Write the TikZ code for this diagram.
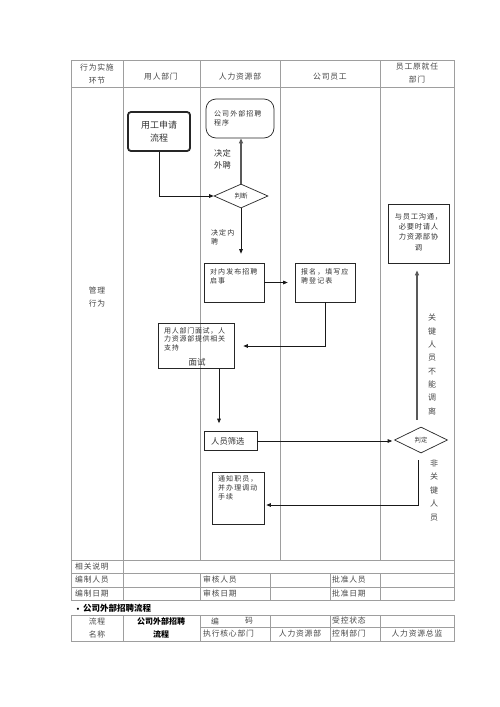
\documentclass[tikz,border=0pt]{standalone}
\usepackage{fontspec}
\setmainfont{Noto Sans CJK SC}
\newfontfamily\spc[LetterSpace=15]{Noto Sans CJK SC}
\newfontfamily\spt[LetterSpace=10]{Noto Sans CJK SC}
\newfontfamily\symfont{DejaVu Sans}
\usetikzlibrary{shapes.geometric,arrows.meta}
\begin{document}
\begin{tikzpicture}[x=1pt,y=-1pt,
 gridl/.style={draw=black!38, line width=0.8pt},
 tt/.style={inner sep=0, text=black!72, font=\spt\fontsize{7.8}{13}\selectfont},
 ft/.style={inner sep=0, text=black!80},
 box/.style={draw=black!85, line width=0.7pt, inner sep=0},
 arr/.style={draw=black!90, line width=0.7pt, -{Triangle[length=4.5pt,width=3.6pt]}},
 garr/.style={draw=black!65, line width=1.3pt, -{Triangle[length=5pt,width=4pt]}},
 small/.style={font=\spc\fontsize{7}{9}\selectfont},
]
\useasboundingbox[fill=white] (0,0) rectangle (500,707);

% ---- main table grid
\draw[gridl] (71,60) rectangle (454,600);
\draw[gridl] (71,87) -- (454,87);
\draw[gridl] (71,560) -- (454,560) (71,573) -- (454,573) (71,587) -- (454,587);
\draw[gridl] (123,60) -- (123,600);
\draw[gridl] (200,60) -- (200,560) (280,60) -- (280,560) (380,60) -- (380,560);
\draw[gridl] (200,573) -- (200,600) (270,573) -- (270,600) (330,573) -- (330,600) (380,573) -- (380,600);

% ---- header
\node[tt, align=center] (h0) at (97,73.5) {行为实施\\环节};
\node[tt] (h1) at (161,77) {用人部门};
\node[tt] (h2) at (240,77) {人力资源部};
\node[tt] (h3) at (330,77) {公司员工};
\node[tt, align=center] (h4) at (417,73.5) {员工原就任\\部门};
\node[tt, align=center, font=\spt\fontsize{7.8}{12.5}\selectfont] (m0) at (97,297) {管理\\行为};

% ---- flow
\node[box, line width=1.8pt, rounded corners=3pt, minimum width=62, minimum height=39,
      align=center, text=black!80, font=\fontsize{9}{12.7}\selectfont] (A) at (159,131.5) {用工申请\\流程};
\node[box, rounded corners=10pt, minimum width=68, minimum height=39] (B) at (240,118.5) {};
\node[ft, small, anchor=north west, align=left] (Bt) at (214,110) {公司外部招聘\\程序};

\node[box, diamond, minimum width=54, minimum height=24, aspect=2.2,
      font=\fontsize{6.5}{8}\selectfont, text=black!80] (D1) at (241,196) {判断};
\node[ft, align=left, anchor=north west, font=\fontsize{8.3}{12.5}\selectfont] (L0) at (214,149) {决定\\外聘};
\node[ft, small, align=left, anchor=north west] (L3) at (211,229) {决定内\\聘};

\node[box, minimum width=60, minimum height=39] (C) at (234,282.5) {};
\node[ft, small, anchor=north west, align=left] (Ct) at (210,268) {对内发布招聘\\启事};
\node[box, minimum width=60, minimum height=39] (E) at (325,282.5) {};
\node[ft, small, anchor=north west, align=left] (Et) at (301,268) {报名，填写应\\聘登记表};

\node[box, minimum width=76, minimum height=45] (F) at (196,346) {};
\node[ft, anchor=north west, align=left, font=\spt\fontsize{7}{8.7}\selectfont] (Ft) at (164,327) {用人部门面试，人\\力资源部提供相关\\支持};
\node[ft, font=\fontsize{8.5}{10}\selectfont] (Fm) at (197,362) {面试};

\node[box, minimum width=53, minimum height=19] (G) at (230.5,441) {};
\node[ft, anchor=west, font=\fontsize{8.3}{10}\selectfont] (Gt) at (211,441) {人员筛选};

\node[box, diamond, minimum width=53, minimum height=26, aspect=2,
      font=\fontsize{6.3}{8}\selectfont, text=black!80] (H) at (421,440) {判定};

\node[box, minimum width=61, minimum height=59] (I) at (418.5,233.5) {};
\node[ft, align=center, font=\spt\fontsize{7.3}{10.2}\selectfont] (It) at (418.5,232) {与员工沟通，\\必要时请人\\力资源部协\\调};

\node[box, minimum width=52, minimum height=52] (J) at (238,498) {};
\node[ft, small, anchor=north west, align=left] (Jt) at (218,475) {通知职员，\\并办理调动\\手续};

\node[ft, align=center, text=black!72, font=\fontsize{8}{13.3}\selectfont] (L1) at (432,364.5) {关\\键\\人\\员\\不\\能\\调\\离};
\node[ft, align=center, text=black!72, font=\fontsize{8}{13.5}\selectfont] (L2) at (434,490) {非\\关\\键\\人\\员};

% ---- connectors
\draw[arr] (A.south) |- (D1.west);
\draw[garr] (D1.north) -- (D1.north |- B.south);
\draw[arr, shorten >=9pt] (D1.south) -- (D1.south |- C.north);
\draw[arr, shorten >=7pt] (C.east) -- (E.west);
\draw[arr, shorten >=9pt] (E.south) |- (F.east);
\draw[arr, shorten >=8pt] ([xshift=23pt]F.south) -- ([xshift=23pt]F.south |- G.north);
\draw[arr, shorten >=2pt] (G.east) -- (G.east -| H.west);
\draw[garr, shorten >=14pt] ([xshift=-4pt,yshift=7pt]H.north) -- ([xshift=-4pt,yshift=7pt]H.north |- I.south);
\draw[arr, shorten >=2pt] ([xshift=-3pt,yshift=-7pt]H.south) |- ([yshift=-7pt]J.east);

% ---- footer rows
\node[tt, anchor=west] (r1) at (75,566.5) {相关说明};
\node[tt, anchor=west] (r2) at (75,580) {编制人员};
\node[tt, anchor=west] (r3) at (75,593.5) {编制日期};
\node[tt, anchor=west] (r4) at (203,580) {审核人员};
\node[tt, anchor=west] (r5) at (203,593.5) {审核日期};
\node[tt, anchor=west] (r6) at (332,580) {批准人员};
\node[tt, anchor=west] (r7) at (332,593.5) {批准日期};

% ---- title
\node[inner sep=0, anchor=west, font=\fontsize{8.5}{10}\selectfont\bfseries] (title) at (76,608.5) {{\symfont\fontsize{6}{8}\selectfont •}\hspace{3pt}公司外部招聘流程};

% ---- second table
\draw[gridl] (71,615) rectangle (454,641);
\draw[gridl] (200,627) -- (454,627);
\draw[gridl] (123,615) -- (123,641) (200,615) -- (200,641) (270,615) -- (270,641) (330,615) -- (330,641) (380,615) -- (380,641);
\node[tt, align=center] (s1) at (97,628) {流程\\名称};
\node[tt, align=center, text=black, font=\fontsize{8}{13}\selectfont\bfseries] (s2) at (161,628) {公司外部招聘\\流程};
\node[tt] (s3) at (215,621) {编};
\node[tt] (s3b) at (249,621) {码};
\node[tt, anchor=west] (s4) at (332,621) {受控状态};
\node[tt, anchor=west] (s5) at (203,634) {执行核心部门};
\node[tt] (s6) at (300,634) {人力资源部};
\node[tt, anchor=west] (s7) at (332,634) {控制部门};
\node[tt] (s8) at (417,634) {人力资源总监};
\end{tikzpicture}
\end{document}
